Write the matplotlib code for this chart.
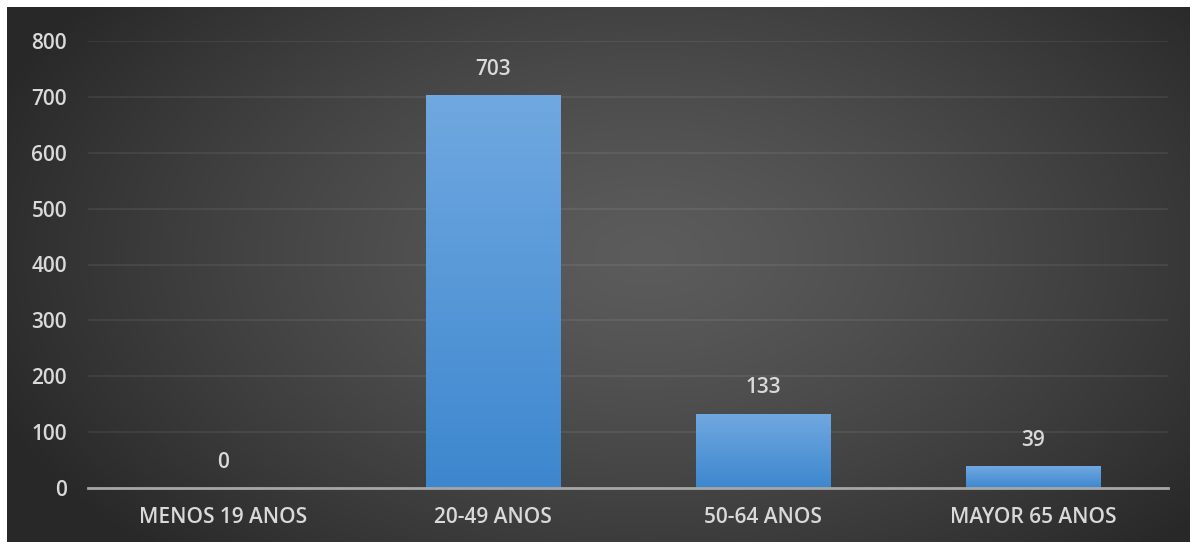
import numpy as np
from matplotlib import pyplot as plt

categories = ["MENOS 19 ANOS", "20-49 ANOS", "50-64 ANOS", "MAYOR 65 ANOS"]
values = [0, 703, 133, 39]
y_ticks = [0, 100, 200, 300, 400, 500, 600, 700, 800]

TEXT = "#d9d9d9"
FS = 15
plt.rcParams["font.family"] = ["Open Sans", "DejaVu Sans"]
plt.rcParams["font.weight"] = 600


def radial_background(fig):
    bg = fig.add_axes([7 / 1190, -0.01, 1.0, 535 / 542 + 0.01], zorder=-10)
    h, w = 545, 1190
    yy, xx = np.mgrid[0:h, 0:w]
    d = np.sqrt(((xx - 640) / 700) ** 2 + ((yy - 250) / 420) ** 2)
    d = np.clip(d, 0, 1)
    shade = 0.36 - 0.20 * d ** 1.3
    img = np.dstack([shade, shade, shade])
    bg.imshow(img, aspect="auto", interpolation="bilinear")
    bg.set_axis_off()


def gradient_bars(ax, bars):
    grad = np.linspace(0, 1, 256).reshape(-1, 1)
    top = np.array([0.44, 0.66, 0.88])
    bottom = np.array([0.24, 0.53, 0.81])
    colors = bottom + (top - bottom) * grad[..., None]
    for bar in bars:
        if bar.get_height() <= 0:
            continue
        x0, y0 = bar.get_x(), bar.get_y()
        x1, y1 = x0 + bar.get_width(), y0 + bar.get_height()
        im = ax.imshow(colors, extent=[x0, x1, y0, y1], origin="lower",
                       aspect="auto", zorder=3)
        im.set_clip_path(bar)
        bar.set_facecolor("none")


def main():
    fig = plt.figure(figsize=(11.9, 5.42), dpi=100)
    fig.patch.set_facecolor("white")
    radial_background(fig)

    ax = fig.add_axes([88 / 1190, 54 / 542, 1080 / 1190, 447 / 542])
    ax.set_facecolor("none")

    x = np.arange(len(categories))
    bars = ax.bar(x, values, width=0.5, color="#5b9bd5", zorder=3,
                  linewidth=0)
    gradient_bars(ax, bars)

    for xi, v in zip(x, values):
        ax.annotate(str(v), (xi, v), xytext=(0, 11), textcoords="offset points",
                    ha="center", va="bottom", color=TEXT, fontsize=FS)

    ax.set_xlim(-0.5, 3.5)
    ax.set_ylim(0, 800)
    ax.set_yticks(y_ticks)
    ax.set_xticks(x)
    ax.set_xticklabels(categories)
    ax.tick_params(axis="both", length=0, colors=TEXT, labelsize=FS)
    ax.tick_params(axis="y", pad=15)
    ax.tick_params(axis="x", pad=14)

    ax.grid(axis="y", color="white", alpha=0.08, linewidth=1.2, zorder=0)
    for side in ["top", "right", "left"]:
        ax.spines[side].set_visible(False)
    ax.spines["bottom"].set_color("#a6a6a6")
    ax.spines["bottom"].set_linewidth(2)
    ax.spines["bottom"].set_zorder(4)

    fig.savefig("out.png", dpi=100)


if __name__ == "__main__":
    main()
